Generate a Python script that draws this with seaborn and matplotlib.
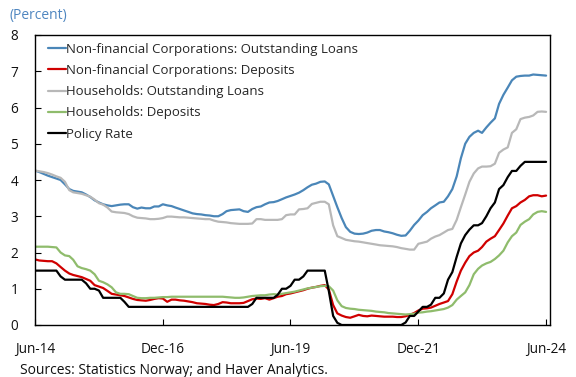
import numpy as np
import pandas as pd
import matplotlib
matplotlib.use("Agg")
import matplotlib.pyplot as plt
import matplotlib.dates as mdates
import seaborn as sns

dates = pd.date_range("2014-06-01", "2024-06-01", freq="MS")

nfc_loans = [
    4.26, 4.22, 4.17, 4.12, 4.08, 4.04, 4.00, 3.88, 3.75, 3.70,
    3.68, 3.66, 3.60, 3.53, 3.44, 3.38, 3.33, 3.30, 3.28, 3.30,
    3.32, 3.33, 3.33, 3.25, 3.21, 3.24, 3.22, 3.22, 3.27, 3.27,
    3.33, 3.30, 3.28, 3.24, 3.20, 3.16, 3.12, 3.08, 3.06, 3.05,
    3.03, 3.02, 3.00, 3.00, 3.06, 3.14, 3.17, 3.18, 3.19, 3.14,
    3.12, 3.20, 3.25, 3.27, 3.33, 3.38, 3.39, 3.42, 3.47, 3.52,
    3.56, 3.60, 3.65, 3.72, 3.80, 3.87, 3.90, 3.95, 3.96, 3.88,
    3.56, 3.25, 2.95, 2.70, 2.57, 2.52, 2.51, 2.52, 2.55, 2.60,
    2.62, 2.62, 2.58, 2.56, 2.53, 2.49, 2.46, 2.47, 2.60, 2.76,
    2.88, 3.03, 3.12, 3.22, 3.30, 3.38, 3.40, 3.55, 3.75, 4.10,
    4.60, 5.00, 5.19, 5.30, 5.36, 5.30, 5.45, 5.58, 5.70, 6.10,
    6.35, 6.55, 6.75, 6.85, 6.87, 6.88, 6.88, 6.91, 6.90, 6.89,
    6.88,
]

nfc_deposits = [
    1.81, 1.78, 1.77, 1.76, 1.76, 1.70, 1.60, 1.50, 1.42, 1.38,
    1.35, 1.32, 1.27, 1.22, 1.10, 1.06, 1.02, 0.94, 0.86, 0.84,
    0.82, 0.80, 0.76, 0.72, 0.69, 0.68, 0.67, 0.69, 0.72, 0.74,
    0.73, 0.64, 0.70, 0.70, 0.68, 0.67, 0.65, 0.63, 0.60, 0.59,
    0.58, 0.56, 0.55, 0.58, 0.63, 0.62, 0.60, 0.60, 0.60, 0.61,
    0.66, 0.71, 0.73, 0.72, 0.74, 0.70, 0.74, 0.78, 0.80, 0.85,
    0.87, 0.90, 0.93, 0.96, 1.00, 1.03, 1.05, 1.08, 1.10, 0.98,
    0.55, 0.32, 0.26, 0.22, 0.20, 0.24, 0.28, 0.25, 0.24, 0.26,
    0.25, 0.24, 0.23, 0.23, 0.23, 0.22, 0.22, 0.24, 0.28, 0.33,
    0.40, 0.45, 0.46, 0.48, 0.53, 0.58, 0.62, 0.66, 0.85, 1.20,
    1.50, 1.72, 1.90, 2.00, 2.05, 2.15, 2.30, 2.38, 2.45, 2.62,
    2.80, 3.02, 3.22, 3.28, 3.38, 3.45, 3.55, 3.58, 3.58, 3.55,
    3.57,
]

hh_loans = [
    4.26, 4.24, 4.22, 4.19, 4.15, 4.10, 4.06, 3.95, 3.72, 3.66,
    3.64, 3.62, 3.58, 3.54, 3.46, 3.36, 3.32, 3.24, 3.13, 3.11,
    3.10, 3.09, 3.06, 3.00, 2.96, 2.95, 2.94, 2.92, 2.92, 2.93,
    2.95, 2.99, 2.99, 2.98, 2.97, 2.97, 2.96, 2.95, 2.94, 2.93,
    2.92, 2.92, 2.88, 2.85, 2.84, 2.83, 2.81, 2.80, 2.79, 2.79,
    2.79, 2.80, 2.92, 2.92, 2.90, 2.90, 2.90, 2.90, 2.92, 3.03,
    3.05, 3.05, 3.19, 3.20, 3.22, 3.34, 3.37, 3.40, 3.40, 3.33,
    2.75, 2.45, 2.40, 2.35, 2.33, 2.31, 2.30, 2.28, 2.26, 2.24,
    2.22, 2.20, 2.19, 2.18, 2.17, 2.15, 2.12, 2.10, 2.08, 2.08,
    2.24, 2.27, 2.30, 2.38, 2.44, 2.48, 2.55, 2.62, 2.65, 2.90,
    3.25, 3.60, 3.95, 4.18, 4.32, 4.37, 4.37, 4.38, 4.45, 4.75,
    4.84, 4.90, 5.30, 5.40, 5.68, 5.72, 5.74, 5.78, 5.88, 5.89,
    5.88,
]

hh_deposits = [
    2.16, 2.16, 2.16, 2.16, 2.15, 2.14, 2.00, 1.92, 1.90, 1.80,
    1.62, 1.57, 1.54, 1.50, 1.40, 1.22, 1.18, 1.12, 1.04, 0.90,
    0.86, 0.86, 0.85, 0.80, 0.75, 0.74, 0.74, 0.75, 0.75, 0.76,
    0.77, 0.77, 0.78, 0.78, 0.78, 0.78, 0.78, 0.78, 0.78, 0.78,
    0.78, 0.78, 0.78, 0.78, 0.78, 0.77, 0.76, 0.75, 0.75, 0.76,
    0.78, 0.80, 0.81, 0.82, 0.82, 0.84, 0.85, 0.84, 0.86, 0.88,
    0.90, 0.92, 0.95, 0.98, 1.01, 1.03, 1.05, 1.07, 1.08, 1.07,
    0.95, 0.68, 0.52, 0.47, 0.45, 0.44, 0.42, 0.41, 0.40, 0.39,
    0.37, 0.36, 0.35, 0.33, 0.32, 0.31, 0.30, 0.29, 0.30, 0.31,
    0.34, 0.35, 0.37, 0.38, 0.40, 0.42, 0.44, 0.48, 0.55, 0.70,
    0.80, 0.90, 1.10, 1.40, 1.55, 1.64, 1.70, 1.74, 1.82, 1.92,
    2.05, 2.28, 2.45, 2.55, 2.76, 2.85, 2.92, 3.05, 3.12, 3.14,
    3.12,
]

policy_rate = [
    1.50, 1.50, 1.50, 1.50, 1.50, 1.50, 1.34, 1.25, 1.25, 1.25,
    1.25, 1.25, 1.15, 1.00, 1.00, 0.95, 0.75, 0.75, 0.75, 0.75,
    0.75, 0.64, 0.50, 0.50, 0.50, 0.50, 0.50, 0.50, 0.50, 0.50,
    0.50, 0.50, 0.50, 0.50, 0.50, 0.50, 0.50, 0.50, 0.50, 0.50,
    0.50, 0.50, 0.50, 0.50, 0.50, 0.50, 0.50, 0.50, 0.50, 0.50,
    0.50, 0.58, 0.75, 0.75, 0.75, 0.75, 0.75, 0.83, 1.00, 1.00,
    1.08, 1.25, 1.25, 1.34, 1.50, 1.50, 1.50, 1.50, 1.50, 0.94,
    0.25, 0.06, 0.00, 0.00, 0.00, 0.00, 0.00, 0.00, 0.00, 0.00,
    0.00, 0.00, 0.00, 0.00, 0.00, 0.00, 0.00, 0.07, 0.25, 0.25,
    0.37, 0.50, 0.50, 0.56, 0.75, 0.75, 0.87, 1.25, 1.46, 1.88,
    2.25, 2.48, 2.63, 2.75, 2.75, 2.81, 3.00, 3.22, 3.38, 3.75,
    3.86, 4.08, 4.25, 4.25, 4.39, 4.50, 4.50, 4.50, 4.50, 4.50,
    4.50,
]

series_names = [
    "Non-financial Corporations: Outstanding Loans",
    "Non-financial Corporations: Deposits",
    "Households: Outstanding Loans",
    "Households: Deposits",
    "Policy Rate",
]
series_values = [nfc_loans, nfc_deposits, hh_loans, hh_deposits, policy_rate]
colors = ["#4a86b8", "#d00000", "#b8b8b8", "#8fbc6c", "#000000"]

tick_labels = ["Jun-14", "Dec-16", "Jun-19", "Dec-21", "Jun-24"]
tick_dates = pd.to_datetime(["2014-06-01", "2016-12-01", "2019-06-01", "2021-12-01", "2024-06-01"])

frames = []
for name, vals in zip(series_names, series_values):
    frames.append(pd.DataFrame({"date": dates, "value": vals, "series": name}))
df = pd.concat(frames, ignore_index=True)

sns.set_theme(style="white")
plt.rcParams["font.family"] = ["Open Sans", "DejaVu Sans"]

fig = plt.figure(figsize=(5.76, 3.77), dpi=100)
ax = fig.add_axes([35 / 576, 52 / 377, 515 / 576, 290 / 377])

sns.lineplot(data=df, x="date", y="value", hue="series", hue_order=series_names,
             palette=colors, linewidth=1.6, ax=ax, legend=True)

ax.set_xlim(pd.Timestamp("2014-06-01"), pd.Timestamp("2024-06-29"))
ax.set_ylim(0, 8)
ax.set_yticks(range(0, 9))
ax.set_xticks(tick_dates)
ax.set_xticklabels(tick_labels)
ax.set_xlabel("")
ax.set_ylabel("")

for s in ax.spines.values():
    s.set_visible(True)
    s.set_color("black")
    s.set_linewidth(1.0)

ax.tick_params(axis="both", direction="in", length=4, width=0.8, colors="black",
               labelsize=9.8, labelcolor="#111111")
ax.tick_params(axis="x", pad=12, bottom=True)
ax.tick_params(axis="y", pad=12, left=True)

leg = ax.legend(loc="upper left", frameon=False, fontsize=9.5, handlelength=1.36,
                handletextpad=0.0, labelspacing=0.62, borderaxespad=0.2,
                bbox_to_anchor=(0.0097, 1.0))
for line in leg.get_lines():
    line.set_linewidth(1.6)

fig.text(10 / 576, 1 - 15 / 377, "(Percent)", color="#4f86c0", fontsize=10, va="center", ha="left")
fig.text(20 / 576, 1 - 370 / 377, "Sources: Statistics Norway; and Haver Analytics.",
         color="#111111", fontsize=10, va="center", ha="left")

fig.savefig("out.png", dpi=100)
